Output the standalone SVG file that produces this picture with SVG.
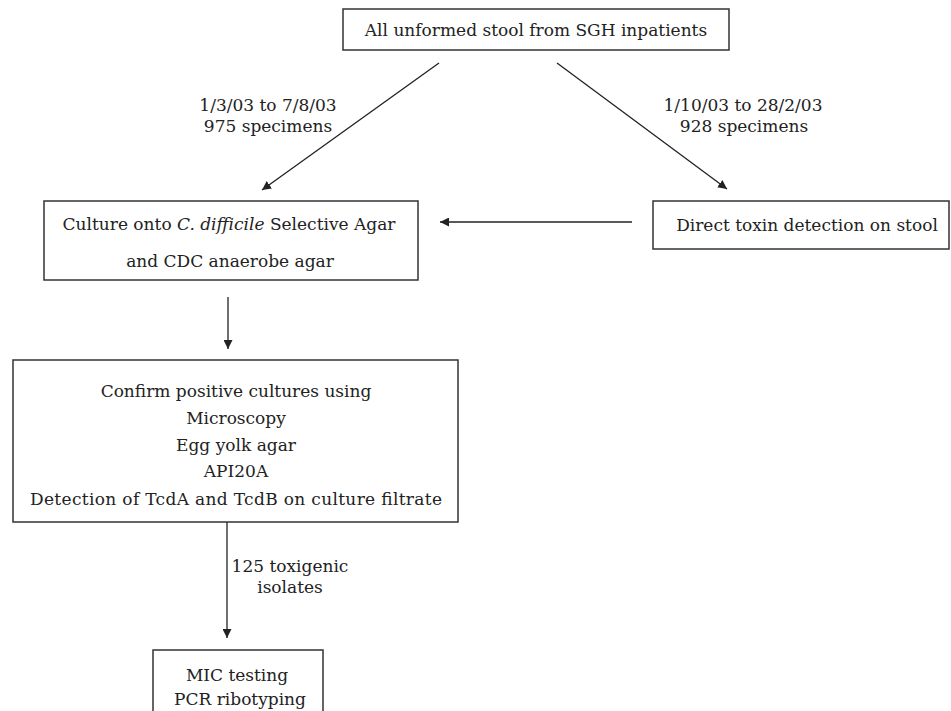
<svg xmlns="http://www.w3.org/2000/svg" width="951" height="711" viewBox="0 0 951 711">
<style>
.box{fill:#fff;stroke:#333;stroke-width:1.5}
.t{font-family:"DejaVu Serif","Liberation Serif",serif;font-size:17px;fill:#222;text-anchor:middle}
.c{stroke:#222;stroke-width:1.3;fill:none}
</style>
<defs>
<marker id="ah" viewBox="0 0 10 10" refX="10" refY="5" markerWidth="9" markerHeight="9" markerUnits="userSpaceOnUse" orient="auto">
<path d="M0,0 L10,5 L0,10 z" fill="#222"/>
</marker>
</defs>
<rect width="951" height="711" fill="#fff"/>
<g id="connectors">
<line class="c" x1="439" y1="63" x2="262" y2="190" marker-end="url(#ah)"/>
<line class="c" x1="557" y1="63" x2="727" y2="189" marker-end="url(#ah)"/>
<line class="c" x1="632" y1="222" x2="440" y2="222" marker-end="url(#ah)"/>
<line class="c" x1="228" y1="297" x2="228" y2="349" marker-end="url(#ah)"/>
<line class="c" x1="227" y1="522" x2="227" y2="638" marker-end="url(#ah)"/>
<text class="t" x="268" y="111">1/3/03 to 7/8/03</text>
<text class="t" x="268" y="132">975 specimens</text>
<text class="t" x="743" y="111">1/10/03 to 28/2/03</text>
<text class="t" x="744" y="132">928 specimens</text>
<text class="t" x="290" y="572">125 toxigenic</text>
<text class="t" x="290" y="593">isolates</text>
</g>
<g id="n1">
<rect class="box" x="343" y="9" width="386" height="41"/>
<text class="t" x="536" y="36">All unformed stool from SGH inpatients</text>
</g>
<g id="n2">
<rect class="box" x="44" y="201" width="374" height="79"/>
<text class="t" x="229" y="230">Culture onto <tspan font-style="italic">C. difficile</tspan> Selective Agar</text>
<text class="t" x="230" y="267">and CDC anaerobe agar</text>
</g>
<g id="n3">
<rect class="box" x="653" y="201" width="296" height="48"/>
<text class="t" x="807" y="231">Direct toxin detection on stool</text>
</g>
<g id="n4">
<rect class="box" x="13" y="360" width="445" height="162"/>
<text class="t" x="236" y="397">Confirm positive cultures using</text>
<text class="t" x="236" y="424">Microscopy</text>
<text class="t" x="236" y="451">Egg yolk agar</text>
<text class="t" x="236" y="477">API20A</text>
<text class="t" x="236" y="505" textLength="412" lengthAdjust="spacing">Detection of TcdA and TcdB on culture filtrate</text>
</g>
<g id="n5">
<rect class="box" x="153" y="650" width="170" height="70"/>
<text class="t" x="237" y="681">MIC testing</text>
<text class="t" x="240" y="705">PCR ribotyping</text>
</g>
</svg>
